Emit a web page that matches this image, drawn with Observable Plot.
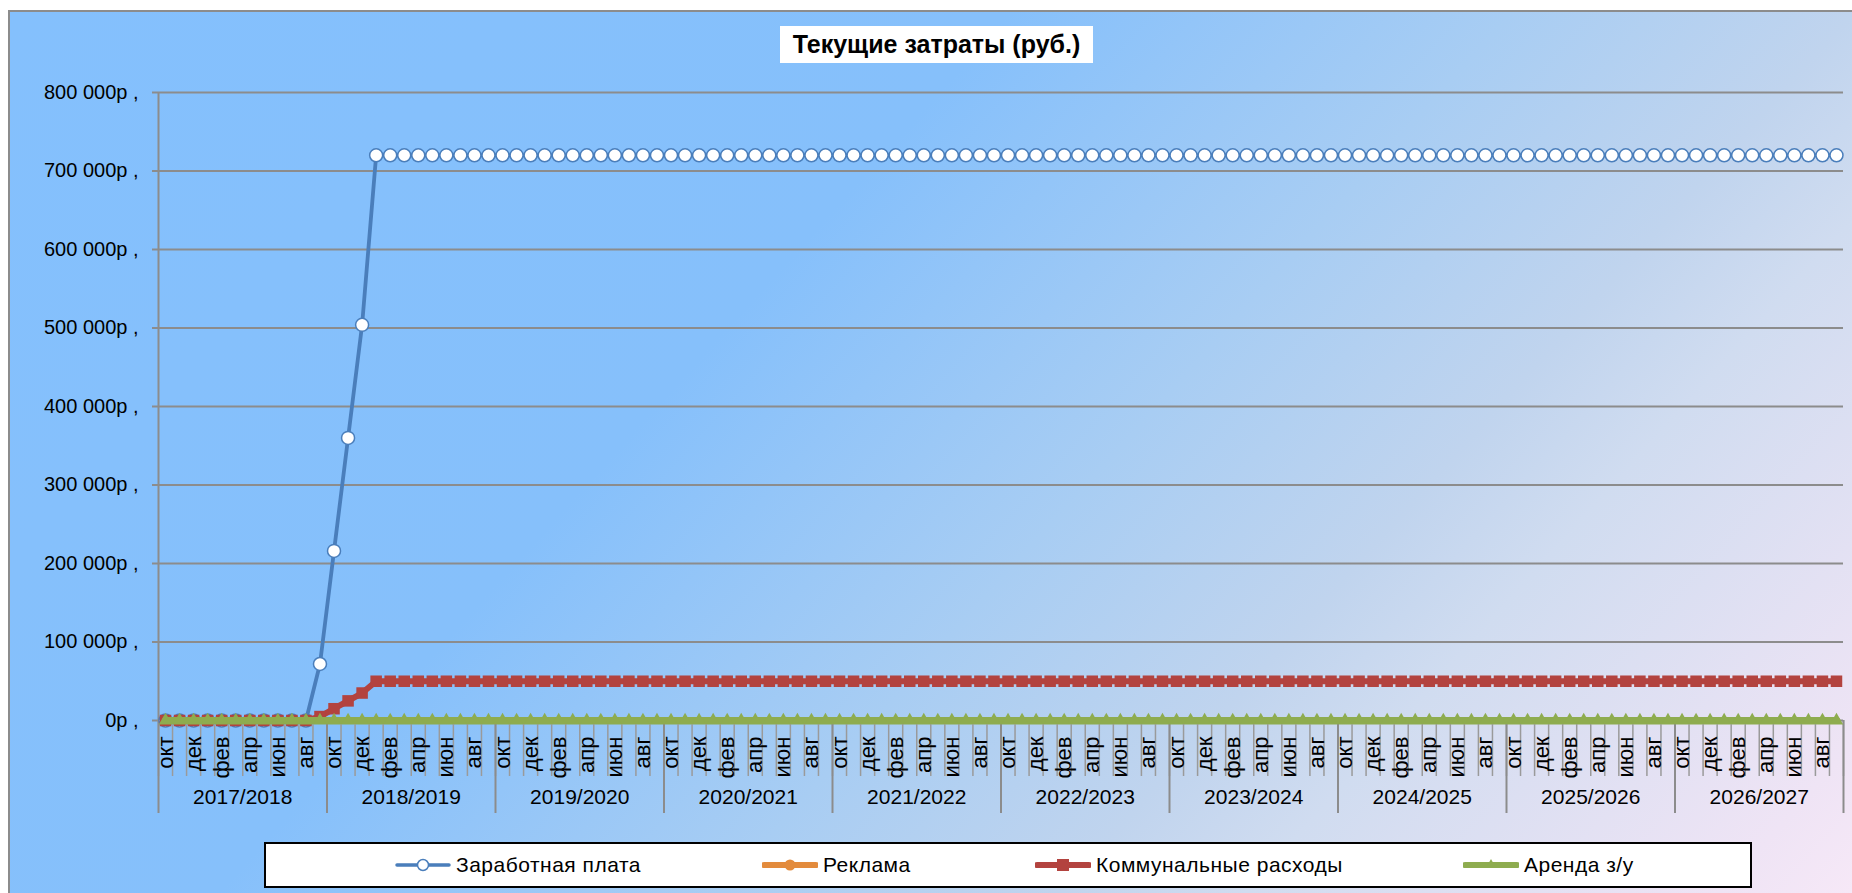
<!DOCTYPE html>
<html>
<head>
<meta charset="utf-8">
<script src="https://cdn.jsdelivr.net/npm/d3@7"></script>
<script src="https://cdn.jsdelivr.net/npm/@observablehq/plot@0.6"></script>
<style>
html, body { margin: 0; padding: 0; background: #ffffff; }
#wrap { position: relative; width: 1852px; height: 893px; overflow: hidden; font-family: "Liberation Sans", Arial, sans-serif; }
#bg { position: absolute; left: 8px; top: 10px; width: 1844px; height: 883px; box-sizing: border-box;
  border-top: 2px solid #8c8c8c; border-left: 2px solid #8c8c8c;
  background: linear-gradient(132deg, #84c0fd 0%, #86c0fb 38%, #a8cdf3 57%, #c0d4ee 70%, #d0dcf0 77%, #efe4f5 95%, #f6e8f7 100%); }
#chart { position: absolute; left: 0; top: 0; }
#title { position: absolute; left: 780px; top: 26px; width: 313px; height: 37px; background: #ffffff;
  font-weight: bold; font-size: 25px; line-height: 37px; text-align: center; color: #000; white-space: nowrap; }
#legend { position: absolute; left: 264px; top: 842px; width: 1488px; height: 46px; box-sizing: border-box;
  border: 2px solid #000; background: #ffffff; }
.item { position: absolute; top: 0; height: 42px; display: flex; align-items: center; font-size: 21px; letter-spacing: 0.5px; color: #000; white-space: nowrap; }
.item svg { margin-right: 5px; }
</style>
</head>
<body>
<div id="wrap">
  <div id="bg"></div>
  <div id="chart"></div>
  <div id="title">Текущие затраты (руб.)</div>
  <div id="legend"></div>
</div>
<script>
// ---- Data ----
const monthNames = ["окт","ноя","дек","янв","фев","мар","апр","май","июн","июл","авг","сен"];
const monthTickLabels = ["окт","дек","фев","апр","июн","авг"];
const yearLabels = ["2017/2018","2018/2019","2019/2020","2020/2021","2021/2022","2022/2023","2023/2024","2024/2025","2025/2026","2026/2027"];
const yTickValues = [0, 100000, 200000, 300000, 400000, 500000, 600000, 700000, 800000];
const seriesNames = ["Заработная плата", "Реклама", "Коммунальные расходы", "Аренда з/у"];

const salary = [
  0, 0, 0, 0, 0, 0, 0, 0, 0, 0, 0, 72000,
  216000, 360000, 504000, 720000, 720000, 720000, 720000, 720000, 720000, 720000, 720000, 720000,
  720000, 720000, 720000, 720000, 720000, 720000, 720000, 720000, 720000, 720000, 720000, 720000,
  720000, 720000, 720000, 720000, 720000, 720000, 720000, 720000, 720000, 720000, 720000, 720000,
  720000, 720000, 720000, 720000, 720000, 720000, 720000, 720000, 720000, 720000, 720000, 720000,
  720000, 720000, 720000, 720000, 720000, 720000, 720000, 720000, 720000, 720000, 720000, 720000,
  720000, 720000, 720000, 720000, 720000, 720000, 720000, 720000, 720000, 720000, 720000, 720000,
  720000, 720000, 720000, 720000, 720000, 720000, 720000, 720000, 720000, 720000, 720000, 720000,
  720000, 720000, 720000, 720000, 720000, 720000, 720000, 720000, 720000, 720000, 720000, 720000,
  720000, 720000, 720000, 720000, 720000, 720000, 720000, 720000, 720000, 720000, 720000, 720000
];
const advertising = [
  0, 0, 0, 0, 0, 0, 0, 0, 0, 0, 0, 0,
  0, 0, 0, 0, 0, 0, 0, 0, 0, 0, 0, 0,
  0, 0, 0, 0, 0, 0, 0, 0, 0, 0, 0, 0,
  0, 0, 0, 0, 0, 0, 0, 0, 0, 0, 0, 0,
  0, 0, 0, 0, 0, 0, 0, 0, 0, 0, 0, 0,
  0, 0, 0, 0, 0, 0, 0, 0, 0, 0, 0, 0,
  0, 0, 0, 0, 0, 0, 0, 0, 0, 0, 0, 0,
  0, 0, 0, 0, 0, 0, 0, 0, 0, 0, 0, 0,
  0, 0, 0, 0, 0, 0, 0, 0, 0, 0, 0, 0,
  0, 0, 0, 0, 0, 0, 0, 0, 0, 0, 0, 0
];
const utilities = [
  0, 0, 0, 0, 0, 0, 0, 0, 0, 0, 0, 5000,
  15000, 25000, 35000, 50000, 50000, 50000, 50000, 50000, 50000, 50000, 50000, 50000,
  50000, 50000, 50000, 50000, 50000, 50000, 50000, 50000, 50000, 50000, 50000, 50000,
  50000, 50000, 50000, 50000, 50000, 50000, 50000, 50000, 50000, 50000, 50000, 50000,
  50000, 50000, 50000, 50000, 50000, 50000, 50000, 50000, 50000, 50000, 50000, 50000,
  50000, 50000, 50000, 50000, 50000, 50000, 50000, 50000, 50000, 50000, 50000, 50000,
  50000, 50000, 50000, 50000, 50000, 50000, 50000, 50000, 50000, 50000, 50000, 50000,
  50000, 50000, 50000, 50000, 50000, 50000, 50000, 50000, 50000, 50000, 50000, 50000,
  50000, 50000, 50000, 50000, 50000, 50000, 50000, 50000, 50000, 50000, 50000, 50000,
  50000, 50000, 50000, 50000, 50000, 50000, 50000, 50000, 50000, 50000, 50000, 50000
];
const landRent = [
  0, 0, 0, 0, 0, 0, 0, 0, 0, 0, 0, 0,
  0, 0, 0, 0, 0, 0, 0, 0, 0, 0, 0, 0,
  0, 0, 0, 0, 0, 0, 0, 0, 0, 0, 0, 0,
  0, 0, 0, 0, 0, 0, 0, 0, 0, 0, 0, 0,
  0, 0, 0, 0, 0, 0, 0, 0, 0, 0, 0, 0,
  0, 0, 0, 0, 0, 0, 0, 0, 0, 0, 0, 0,
  0, 0, 0, 0, 0, 0, 0, 0, 0, 0, 0, 0,
  0, 0, 0, 0, 0, 0, 0, 0, 0, 0, 0, 0,
  0, 0, 0, 0, 0, 0, 0, 0, 0, 0, 0, 0,
  0, 0, 0, 0, 0, 0, 0, 0, 0, 0, 0, 0
];

// ---- Styles ----
const colors = { salary: "#4a7ebb", adv: "#e38b3c", util: "#b3433f", rent: "#8eac4f" };

// ---- Derived tables ----
const nMonths = yearLabels.length * monthNames.length;
const toRows = (values) => values.map((v, i) => ({ pos: i + 0.5, month: monthNames[i % 12], value: v }));
const salaryRows = toRows(salary);
const advRows = toRows(advertising);
const utilRows = toRows(utilities);
const rentRows = toRows(landRent);

const monthLabelRows = [];
yearLabels.forEach((y, yi) => {
  monthNames.forEach((m, mi) => {
    if (monthTickLabels.includes(m)) monthLabelRows.push({ pos: yi * 12 + mi + 0.5, label: m });
  });
});
const yearRows = yearLabels.map((y, yi) => ({ pos: yi * 12 + 6, label: y }));

const fmtRub = (d) => d3.format(",")(d).replace(/,/g, " ") + "р ,";

const chart = Plot.plot({
  width: 1852,
  height: 893,
  marginLeft: 158,
  marginRight: 9,
  marginTop: 92,
  marginBottom: 173,
  style: { background: "transparent", fontFamily: "'Liberation Sans', Arial, sans-serif", color: "#000", overflow: "visible" },
  x: { domain: [0, nMonths], axis: null, label: null },
  y: { domain: [0, 800000], axis: null, label: null },
  marks: [
    Plot.gridY(yTickValues, { stroke: "#8c8c8c", strokeOpacity: 1, strokeWidth: 2 }),
    Plot.axisY({ ticks: yTickValues, tickSize: 6, tickPadding: 14, tickFormat: fmtRub, stroke: "#8c8c8c", strokeWidth: 2, fontSize: 20, label: null }),
    Plot.ruleX([0], { y1: 0, y2: 800000, stroke: "#8c8c8c", strokeWidth: 2 }),
    Plot.axisX({ ticks: d3.range(0, nMonths + 1), tickSize: 56, tickFormat: () => "", stroke: "#9a9a9a", strokeWidth: 1.5, label: null }),
    Plot.axisX({ ticks: d3.range(0, nMonths + 1, 12), tickSize: 93, tickFormat: () => "", stroke: "#8c8c8c", strokeWidth: 2, label: null }),
    Plot.text(monthLabelRows, { x: "pos", text: "label", frameAnchor: "bottom", rotate: -90, textAnchor: "end", lineAnchor: "middle", dy: 16, fontSize: 22, fill: "#000" }),
    Plot.text(yearRows, { x: "pos", text: "label", frameAnchor: "bottom", dy: 83, fontSize: 21, fill: "#000" }),
    // Заработная плата
    Plot.line(salaryRows, { x: "pos", y: "value", stroke: colors.salary, strokeWidth: 3.8 }),
    Plot.dot(salaryRows, { x: "pos", y: "value", r: 6.5, fill: "white", stroke: colors.salary, strokeWidth: 1.5 }),
    // Реклама
    Plot.line(advRows, { x: "pos", y: "value", stroke: colors.adv, strokeWidth: 5 }),
    Plot.dot(advRows, { x: "pos", y: "value", r: 3.5, fill: colors.adv, stroke: "none" }),
    // Коммунальные расходы
    Plot.line(utilRows, { x: "pos", y: "value", stroke: colors.util, strokeWidth: 6 }),
    Plot.dot(utilRows, { x: "pos", y: "value", symbol: "square", r: 6.5, fill: colors.util, stroke: "none" }),
    // Аренда з/у
    Plot.line(rentRows, { x: "pos", y: "value", stroke: colors.rent, strokeWidth: 7 }),
    Plot.dot(rentRows, { x: "pos", y: "value", symbol: "triangle", r: 5, fill: colors.rent, stroke: "none" })
  ]
});
document.getElementById("chart").appendChild(chart);

// ---- Legend ----
const legendItems = [
  { name: seriesNames[0], color: colors.salary, marker: "circle-open", left: 129 },
  { name: seriesNames[1], color: colors.adv, marker: "circle", left: 496 },
  { name: seriesNames[2], color: colors.util, marker: "square", left: 769 },
  { name: seriesNames[3], color: colors.rent, marker: "triangle", left: 1197 }
];
const legend = document.getElementById("legend");
legendItems.forEach((it) => {
  const div = document.createElement("div");
  div.className = "item";
  div.style.left = it.left + "px";
  const w = 56, h = 20, cy = 10, cx = 28;
  let marker = "";
  if (it.marker === "circle-open") marker = `<circle cx="${cx}" cy="${cy}" r="5.5" fill="white" stroke="${it.color}" stroke-width="1.5"/>`;
  else if (it.marker === "circle") marker = `<circle cx="${cx}" cy="${cy}" r="5.5" fill="${it.color}"/>`;
  else if (it.marker === "square") marker = `<rect x="${cx - 6}" y="${cy - 6}" width="12" height="12" fill="${it.color}"/>`;
  else marker = `<path d="M${cx},${cy - 6}L${cx + 4},${cy + 1}L${cx - 4},${cy + 1}Z" fill="${it.color}"/>`;
  div.innerHTML = `<svg width="${w}" height="${h}"><line x1="2" y1="${cy}" x2="${w - 2}" y2="${cy}" stroke="${it.color}" stroke-width="${it.marker === "circle-open" ? 3.5 : 6}" stroke-linecap="round"/>${marker}</svg><span>${it.name}</span>`;
  legend.appendChild(div);
});
</script>
</body>
</html>
